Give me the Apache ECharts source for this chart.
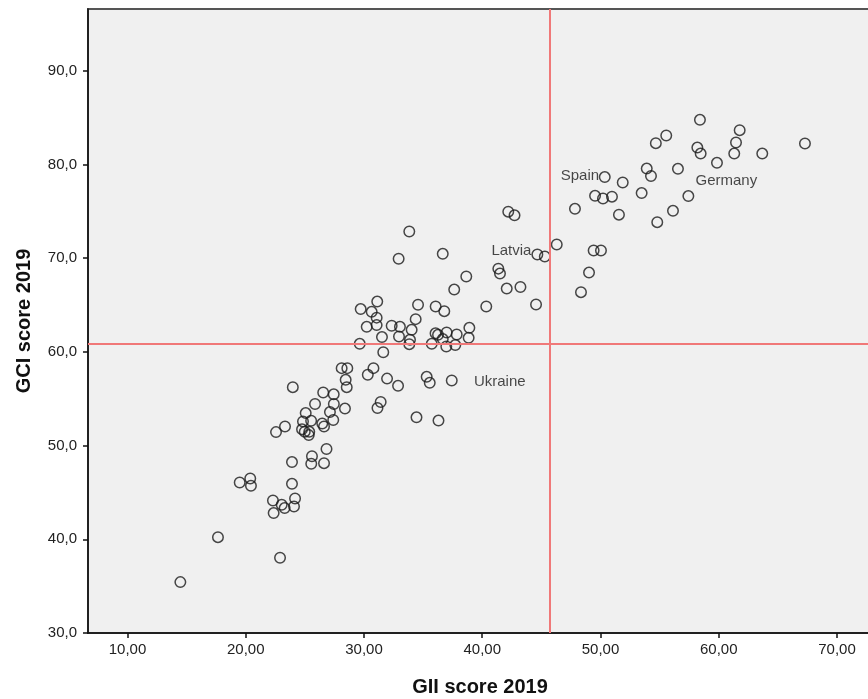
<!DOCTYPE html>
<html>
<head>
<meta charset="utf-8">
<title>GII vs GCI 2019</title>
<script src="https://cdn.jsdelivr.net/npm/echarts@6/dist/echarts.min.js"></script>
<style>
  html, body { margin: 0; padding: 0; background: #ffffff; }
  #chart { width: 868px; height: 699px; }
</style>
</head>
<body>
<div id="chart"></div>
<script>
// Global Innovation Index score 2019, one value per country
const giiScores = [
  14.47, 17.65, 22.90, 22.30, 23.04, 23.29, 24.17, 24.08, 22.36, 19.49,
  20.38, 20.44, 23.91, 23.91, 25.60, 25.54, 26.62, 26.83, 22.56, 23.32,
  24.76, 24.99, 25.37, 25.33, 24.84, 25.53, 26.47, 26.62, 25.07, 25.86,
  26.55, 23.98, 27.12, 27.40, 27.44, 27.45, 28.39, 28.54, 28.45, 28.11,
  28.59, 30.80, 30.32, 31.95, 31.14, 31.41, 32.88, 35.30, 35.56, 37.42,
  34.44, 36.30, 31.63, 29.64, 30.23, 29.72, 30.65, 31.07, 31.07, 31.12,
  31.52, 32.34, 33.04, 32.96, 34.37, 34.03, 33.89, 33.83, 34.57, 36.06,
  36.79, 36.05, 36.26, 36.99, 37.84, 38.91, 38.85, 36.66, 35.73, 36.96,
  37.72, 40.34, 37.63, 38.65, 32.93, 33.83, 36.66, 41.36, 41.50, 42.07,
  43.23, 44.55, 42.20, 42.73, 44.66, 45.29, 46.30, 49.42, 50.04, 49.03,
  48.35, 47.84, 49.54, 50.21, 50.97, 50.36, 51.88, 51.56, 53.48, 53.91,
  54.27, 54.68, 54.80, 55.56, 56.13, 56.55, 57.43, 58.19, 58.47, 58.41,
  59.85, 61.77, 61.46, 61.31, 63.68, 67.29
];

// Global Competitiveness Index score 2019, same country order
const gciScores = [
  35.43, 40.23, 38.03, 44.14, 43.68, 43.33, 44.35, 43.50, 42.80, 46.06,
  46.49, 45.71, 45.92, 48.24, 48.86, 48.06, 48.13, 49.64, 51.44, 52.04,
  51.74, 51.49, 51.47, 51.12, 52.58, 52.65, 52.35, 52.04, 53.47, 54.44,
  55.67, 56.24, 53.58, 52.73, 55.47, 54.44, 53.95, 56.24, 57.02, 58.27,
  58.27, 58.27, 57.56, 57.15, 54.01, 54.65, 56.38, 57.34, 56.70, 56.95,
  53.02, 52.67, 59.96, 60.86, 62.68, 64.57, 64.28, 63.66, 62.86, 65.37,
  61.58, 62.79, 62.68, 61.64, 63.50, 62.36, 61.29, 60.83, 65.03, 64.85,
  64.35, 61.98, 61.82, 62.07, 61.86, 62.57, 61.50, 61.37, 60.86, 60.58,
  60.73, 64.85, 66.65, 68.05, 69.94, 72.85, 70.47, 68.89, 68.36, 66.76,
  66.93, 65.06, 74.97, 74.58, 70.40, 70.18, 71.46, 70.82, 70.82, 68.47,
  66.38, 75.27, 76.66, 76.37, 76.57, 78.66, 78.08, 74.65, 76.95, 79.57,
  78.77, 82.28, 73.85, 83.10, 75.06, 79.54, 76.63, 81.81, 81.17, 84.77,
  80.18, 83.67, 82.35, 81.17, 81.17, 82.24
];

// Countries named on the chart, with their scores
const labeledNames = ['Spain', 'Germany', 'Latvia', 'Ukraine'];
const labeledGii = [47.84, 58.19, 43.23, 37.42];
const labeledGci = [75.27, 81.81, 66.93, 56.95];

// Reference lines splitting the plot into quadrants
const refGii = 45.7;
const refGci = 60.9;

// Axis tick values
const xTicks = [10, 20, 30, 40, 50, 60, 70];
const yTicks = [30, 40, 50, 60, 70, 80, 90];

// Where each country name sits relative to its marker (pixels)
const labelOffsets = {
  Spain: [5, -33],
  Germany: [29, 33],
  Latvia: [-9, -36],
  Ukraine: [48, 1]
};

const FONT = '"Liberation Sans", Arial, Helvetica, sans-serif';

const points = giiScores.map(function (x, i) {
  const y = gciScores[i];
  const item = { value: [x, y] };
  const k = labeledNames.findIndex(function (n, j) {
    return labeledGii[j] === x && labeledGci[j] === y;
  });
  if (k >= 0) {
    const name = labeledNames[k];
    item.name = name;
    item.label = {
      show: true,
      formatter: name,
      position: 'inside',
      offset: labelOffsets[name],
      fontFamily: FONT,
      fontSize: 15,
      color: '#1a1a1a'
    };
  }
  return item;
});

const chart = echarts.init(document.getElementById('chart'), null, { renderer: 'canvas' });

chart.setOption({
  animation: false,
  backgroundColor: '#ffffff',
  grid: {
    left: 88,
    top: 9,
    right: -4,
    bottom: 66,
    outerBoundsMode: 'none',
    containLabel: false,
    show: true,
    backgroundColor: '#f0f0f0',
    borderColor: '#555',
    borderWidth: 2
  },
  xAxis: {
    type: 'value',
    min: 6.66,
    max: 72.96,
    name: 'GII score 2019',
    nameLocation: 'middle',
    nameGap: 44,
    nameTextStyle: { fontFamily: FONT, fontSize: 20, fontWeight: 'bold', color: '#111' },
    axisLine: { show: true, onZero: false, lineStyle: { color: '#111', width: 1.5 } },
    axisTick: { show: true, length: 5, customValues: xTicks, lineStyle: { color: '#111', width: 1.5 } },
    axisLabel: {
      customValues: xTicks,
      margin: 9,
      fontFamily: FONT,
      fontSize: 15,
      color: '#222',
      formatter: function (v) { return v.toFixed(2).replace('.', ','); }
    },
    splitLine: { show: false }
  },
  yAxis: {
    type: 'value',
    min: 30,
    max: 96.6,
    name: 'GCI score 2019',
    nameLocation: 'middle',
    nameRotate: 90,
    nameGap: 54,
    nameTextStyle: { fontFamily: FONT, fontSize: 20, fontWeight: 'bold', color: '#111' },
    axisLine: { show: true, onZero: false, lineStyle: { color: '#111', width: 1.5 } },
    axisTick: { show: true, length: 5, customValues: yTicks, lineStyle: { color: '#111', width: 1.5 } },
    axisLabel: {
      customValues: yTicks,
      margin: 11,
      fontFamily: FONT,
      fontSize: 15,
      color: '#222',
      formatter: function (v) { return v.toFixed(1).replace('.', ','); }
    },
    splitLine: { show: false }
  },
  series: [{
    type: 'scatter',
    symbol: 'circle',
    symbolSize: 10.5,
    data: points,
    itemStyle: {
      color: 'rgba(0,0,0,0)',
      borderColor: '#1a1a1a',
      borderWidth: 1.5
    },
    emphasis: { disabled: true },
    markLine: {
      silent: true,
      symbol: ['none', 'none'],
      label: { show: false },
      lineStyle: { color: '#f07878', width: 2, type: 'solid' },
      data: [
        { xAxis: refGii },
        { yAxis: refGci }
      ]
    }
  }]
});
</script>
</body>
</html>
